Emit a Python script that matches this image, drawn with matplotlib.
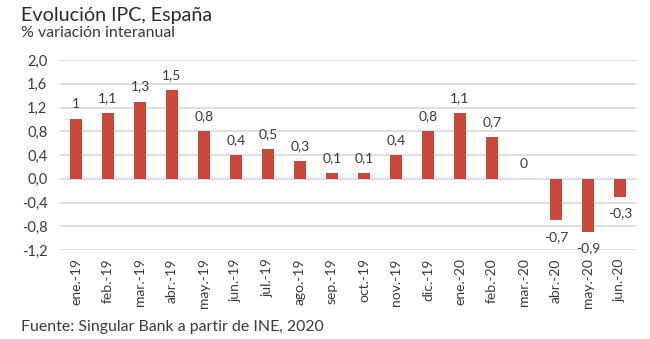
import matplotlib.pyplot as plt
import numpy as np

months = ["ene.-19", "feb.-19", "mar.-19", "abr.-19", "may.-19", "jun.-19",
          "jul.-19", "ago.-19", "sep.-19", "oct.-19", "nov.-19", "dic.-19",
          "ene.-20", "feb.-20", "mar.-20", "abr.-20", "may.-20", "jun.-20"]
ipc = [1.0, 1.1, 1.3, 1.5, 0.8, 0.4, 0.5, 0.3, 0.1, 0.1, 0.4, 0.8,
       1.1, 0.7, 0.0, -0.7, -0.9, -0.3]
y_ticks = [-1.2, -0.8, -0.4, 0.0, 0.4, 0.8, 1.2, 1.6, 2.0]

BAR_COLOR = "#c9473b"
TEXT_COLOR = "#3a3a3a"
GRID_COLOR = "#d9d9d9"

plt.rcParams["font.family"] = ["Lato", "DejaVu Sans"]


def es_num(v, strip_zero=False):
    """Format a number with a decimal comma, Spanish style."""
    if strip_zero and float(v).is_integer():
        return f"{int(v)}"
    return f"{v:.1f}".replace(".", ",")


fig = plt.figure(figsize=(6.5, 3.39), dpi=100)
ax = fig.add_axes([60 / 650, 89 / 339, 576 / 650, 190 / 339])

x = np.arange(len(months))
ax.bar(x, ipc, width=0.375, color=BAR_COLOR, zorder=3)

for xi, v in zip(x, ipc):
    offset = 6.5 if v >= 0 else -7.5
    va = "bottom" if v >= 0 else "top"
    ax.annotate(es_num(v, strip_zero=True), (xi, v), xytext=(0, offset),
                textcoords="offset points", ha="center", va=va,
                fontsize=10, color=TEXT_COLOR)

ax.set_xlim(-0.5, len(months) - 0.5)
ax.set_ylim(-1.2, 2.0)
ax.set_yticks(y_ticks)
ax.set_yticklabels([es_num(t) for t in y_ticks])
ax.set_xticks(x)
ax.set_xticklabels(months, rotation=90)
ax.tick_params(axis="both", length=0, colors=TEXT_COLOR)
ax.tick_params(axis="x", pad=6, labelsize=10)
ax.tick_params(axis="y", pad=9, labelsize=10.5)
ax.grid(axis="y", color=GRID_COLOR, linewidth=1.2, zorder=0)
for spine in ax.spines.values():
    spine.set_visible(False)

fig.text(21 / 650, 1 - 15 / 339, "Evolución IPC, España", fontsize=14.2,
         color="#2a2a2a", va="center")
fig.text(21 / 650, 1 - 33 / 339, "% variación interanual", fontsize=11.4,
         color=TEXT_COLOR, va="center")
fig.text(21 / 650, 1 - 327 / 339, "Fuente: Singular Bank a partir de INE, 2020",
         fontsize=11.4, color=TEXT_COLOR, va="center")

fig.savefig("out.png", dpi=100)
